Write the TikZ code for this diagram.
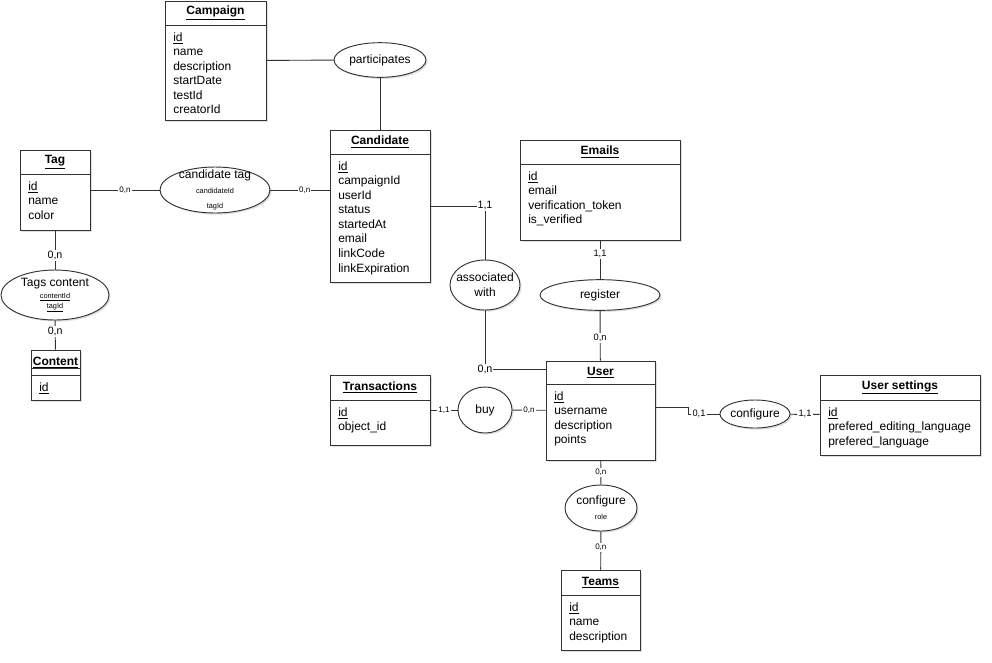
\documentclass[tikz,border=0pt]{standalone}
\usepackage{fontspec}
\setmainfont{Liberation Sans}
\usetikzlibrary{shapes.geometric, positioning, calc, fit, shadows}

% entity box: name, x1, y1, x2, y2, header line, title, attributes
\newcommand{\erbox}[8]{%
  \node[entity, fit={(#2,#3) (#4,#5)}] (#1) {};
  \draw[erline] (#2,#6) -- (#4,#6);
  \node[etitle] (#1-title) at ($(#2,#3)!0.5!(#4,#6)$) {\underline{#7}};
  \node[eattr] (#1-attr) at (#2,#6) {#8};
}
\newcommand{\subtxt}[1]{{\fontsize{5.5}{7}\selectfont #1}}

\begin{document}
\begin{tikzpicture}[
        x=0.75pt, y=-0.75pt,
        erline/.style={draw=black!80, line width=0.7pt},
        entity/.style={erline, fill=white, inner sep=0pt,
            drop shadow={opacity=0.25, shadow xshift=1.2pt, shadow yshift=-1.2pt}},
        etitle/.style={font=\bfseries\fontsize{9}{11}\selectfont},
        eattr/.style={anchor=north west, align=left, inner xsep=6pt, inner ysep=5.5pt,
            font=\fontsize{9}{10.9}\selectfont},
        rel/.style={ellipse, erline, fill=white, inner sep=0pt,
            drop shadow={opacity=0.25, shadow xshift=1.2pt, shadow yshift=-1.2pt}},
        rtext/.style={align=center, font=\fontsize{9}{11}\selectfont},
        card/.style={fill=white, inner sep=0.8pt, font=\fontsize{8}{8}\selectfont},
        cardmid/.style={card, font=\fontsize{7}{7}\selectfont},
        cardsm/.style={card, font=\fontsize{6}{6}\selectfont}
    ]
    \useasboundingbox (0,0) rectangle (992,662);

    % Entities
    \erbox{campaign}{165}{1}{266}{120}{25}{Campaign}{\underline{id}\\name\\description\\startDate\\testId\\creatorId}
    \erbox{tag}{20}{150}{90}{230}{174}{Tag}{\underline{id}\\name\\color}
    \erbox{content}{31}{350}{80}{400}{375}{Content}{\underline{id}}
    \draw[erline] (content.west |- 0,368) -- (content.east |- 0,368);
    \erbox{cand}{330}{130}{430}{282}{154}{Candidate}{\underline{id}\\campaignId\\userId\\status\\startedAt\\email\\linkCode\\linkExpiration}
    \erbox{emails}{520}{140}{680}{240}{164}{Emails}{\underline{id}\\email\\verification\_token\\is\_verified}
    \erbox{user}{546}{361}{655}{460}{384}{User}{\underline{id}\\username\\description\\points}
    \erbox{trans}{330}{375}{430}{445}{400}{Transactions}{\underline{id}\\object\_id}
    \erbox{settings}{820}{375}{980}{455}{400}{User settings}{\underline{id}\\prefered\_editing\_language\\prefered\_language}
    \erbox{teams}{561}{570}{640}{650}{595}{Teams}{\underline{id}\\name\\description}

    % Relations
    \node[rel, minimum width=69pt, minimum height=26pt, label={[rtext]center:participates}] (part) at (380,60) {};
    \node[rel, minimum width=82.5pt, minimum height=34.5pt,
        label={[rtext]center:{candidate tag\\\subtxt{candidateId}\\\subtxt{tagId}}}] (ctag) at (215,190) {};
    \node[rel, minimum width=81pt, minimum height=37.5pt,
        label={[rtext]center:{Tags content\\[-1.5pt]\subtxt{\underline{contentId}}\\[-4pt]\subtxt{\underline{tagId}}}}] (tc) at (55,295) {};
    \node[rel, minimum width=52.5pt, minimum height=37.5pt, label={[rtext]center:{associated\\with}}] (assoc) at (485,285) {};
    \node[rel, minimum width=90pt, minimum height=23pt, label={[rtext]center:register}] (reg) at (600,295) {};
    \node[rel, minimum width=40.5pt, minimum height=34.5pt, label={[rtext]center:buy}] (buy) at (485,410) {};
    \node[rel, minimum width=52.5pt, minimum height=21pt, label={[rtext]center:configure}] (conf) at (755,414) {};
    \node[rel, minimum width=54pt, minimum height=34.5pt,
        label={[rtext]center:{configure\\\subtxt{role}}}] (role) at (601,508) {};

    % Connectors
    \draw[erline] (campaign) -- (part);
    \draw[erline] (part) -- (cand);
    \draw[erline] (tag) -- node[cardsm]{0,n} (ctag);
    \draw[erline] (ctag.east) -- node[cardsm, pos=0.58]{0,n} (ctag.east -| cand.west);
    \draw[erline] (tag) -- node[card, pos=0.65]{0,n} (tc);
    \draw[erline] (tc) -- node[card, pos=0.37]{0,n} (content);
    \draw[erline] (cand.east) -| node[card, pos=0.5]{1,1} (assoc.north);
    \draw[erline] (assoc.south) |- node[card, pos=0.5]{0,n} ([yshift=-7pt]user.north west);
    \draw[erline] (emails) -- node[cardmid, pos=0.35]{1,1} (reg);
    \draw[erline] (reg) -- node[cardmid, pos=0.55]{0,n} (user);
    \draw[erline] (trans) -- node[cardsm]{1,1} (buy);
    \draw[erline] (buy) -- node[cardsm]{0,n} (user);
    \draw[erline] ([yshift=2pt]user.east) -- ++(33,0) |- node[cardmid, pos=0.67]{0,1} (conf.west);
    \draw[erline] (conf) -- node[cardmid]{1,1} (settings);
    \draw[erline] (user) -- node[cardsm]{0,n} (role);
    \draw[erline] (role) -- node[cardsm, pos=0.42]{0,n} (teams);

\end{tikzpicture}
\end{document}
